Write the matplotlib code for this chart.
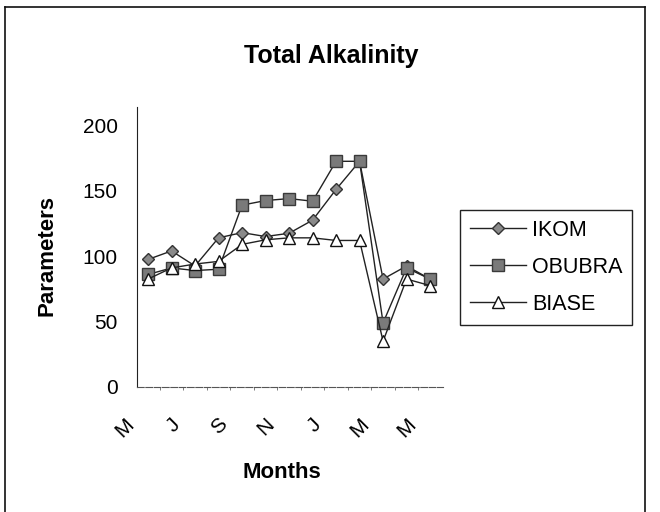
import matplotlib
matplotlib.use("Agg")
import matplotlib.pyplot as plt
import matplotlib.transforms as mtransforms
from matplotlib.lines import Line2D

plt.rcParams['font.family'] = ['Liberation Sans', 'DejaVu Sans']

# data (May .. May)
months = ['M', 'J', 'J', 'A', 'S', 'O', 'N', 'D', 'J', 'F', 'M', 'A', 'M']
ikom = [97.5, 104, 92.5, 114, 118, 115, 117.5, 127.5, 151, 172.5, 82.5, 92.5, 82.5]
obubra = [86, 91, 89, 90, 139, 142.5, 144, 142, 172.5, 172.5, 49, 91, 82.5]
biase = [82.5, 91, 94, 96, 109, 112.5, 114, 114, 112, 112, 35, 82.5, 77.5]

W, H = 660, 512
fig = plt.figure(figsize=(6.6, 5.12), dpi=100)

def fx(px):
    return px / W

def fy(py):
    return 1 - py / H

ax = fig.add_axes([fx(137), fy(387), fx(443) - fx(137), fy(107) - fy(387)])

x = list(range(len(months)))
ax.plot(x, ikom, color='#222222', lw=1.0, marker='D', ms=6.5,
        mfc='#8a8a8a', mec='#333333', mew=1.0, label='IKOM', zorder=3)
ax.plot(x, obubra, color='#222222', lw=1.0, marker='s', ms=8,
        mfc='#7a7a7a', mec='#3a3a3a', mew=1.0, label='OBUBRA', zorder=3)
ax.plot(x, biase, color='#222222', lw=1.0, marker='^', ms=9,
        mfc='white', mec='#111111', mew=1.0, label='BIASE', zorder=4)

ax.set_xlim(-0.47, 12.55)
ax.set_ylim(0, 214)
ax.set_yticks([0, 50, 100, 150, 200])
ax.tick_params(axis='y', length=0, pad=14, labelsize=15)

ax.set_xticks(x[::2])
ax.set_xticklabels(months[::2], rotation=45, ha='right', va='top', fontsize=15)
ax.set_xticks([i + 0.5 for i in range(len(months) - 1)], minor=True)
ax.tick_params(axis='x', which='major', length=0, pad=20)
ax.tick_params(axis='x', which='minor', length=2.5, color='#666666')
shift = mtransforms.ScaledTranslation(-11 / 100, 0, fig.dpi_scale_trans)
for lab in ax.get_xticklabels():
    lab.set_transform(lab.get_transform() + shift)

for s in ['top', 'right']:
    ax.spines[s].set_visible(False)
ax.spines['left'].set_color('#222222')
ax.spines['bottom'].set_color('#555555')
ax.spines['bottom'].set_linestyle((0, (6, 1.5)))

fig.text(fx(331), fy(56), 'Total Alkalinity', ha='center', va='center',
         fontsize=18, fontweight='bold')
fig.text(fx(282), fy(473), 'Months', ha='center', va='center',
         fontsize=16, fontweight='bold')
fig.text(fx(47), fy(255), 'Parameters', ha='center', va='center',
         rotation=90, fontsize=16, fontweight='bold')

leg = ax.legend(loc='upper left', bbox_to_anchor=(fx(460), fy(210)),
                bbox_transform=fig.transFigure, fontsize=15.5, frameon=True,
                fancybox=False, edgecolor='#222222', framealpha=1,
                handlelength=2.6, handletextpad=0.3, labelspacing=0.75,
                borderpad=0.45, borderaxespad=0)
leg.get_frame().set_linewidth(1.0)

# outer chart frame (scanned page, no bottom edge visible)
for xs, ys in [([5, 645], [7, 7]), ([5, 5], [7, 512]), ([645, 645], [7, 512])]:
    fig.add_artist(Line2D([fx(v) for v in xs], [fy(v) for v in ys],
                          color='#111111', lw=1.2, transform=fig.transFigure))

fig.savefig('out.png', dpi=100)
